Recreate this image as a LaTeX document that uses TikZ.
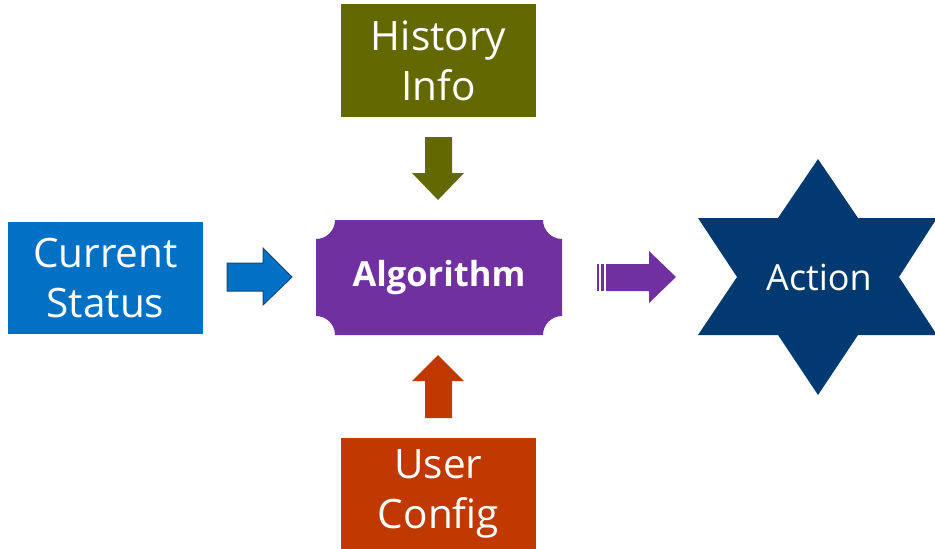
\documentclass[tikz,border=0pt]{standalone}
\usepackage{fontspec}
\setmainfont{Open Sans}
\definecolor{histolive}{RGB}{99,104,0}
\definecolor{curblue}{RGB}{0,113,197}
\definecolor{curedge}{RGB}{24,72,118}
\definecolor{algpurple}{RGB}{112,48,160}
\definecolor{userorange}{RGB}{192,57,0}
\definecolor{actnavy}{RGB}{0,58,112}
\begin{document}
\begin{tikzpicture}[x=1pt,y=-1pt,
  box/.style={minimum width=195pt,inner sep=0pt,text=white,align=center,
    font=\fontsize{40.5}{50}\selectfont},
  label/.style={text=white,inner sep=0pt}]
\useasboundingbox (0,0) rectangle (935,549);

% input boxes
\node[box,fill=histolive,minimum height=113pt] (hist) at (438.5,60.5) {History\\Info};
\node[box,fill=curblue,minimum height=112pt] (cur) at (105.5,278) {Current\\Status};
\node[box,fill=userorange,minimum height=111pt] (user) at (438.5,493.5) {User\\Config};

% algorithm plate with concave corners
\fill[algpurple] (335,220) -- (543,220) arc[start angle=180,end angle=90,radius=19]
  -- (562,316) arc[start angle=270,end angle=180,radius=19]
  -- (335,335) arc[start angle=0,end angle=-90,radius=19]
  -- (316,239) arc[start angle=90,end angle=0,radius=19] -- cycle;
\node[label,font=\bfseries\fontsize{34.5}{40}\selectfont] (alg) at (439,277.5) {Algorithm};

% six-pointed star
\fill[actnavy] (818,159) -- (858,218) -- (937,218) -- (899,277) -- (937,335)
  -- (858,335) -- (818,395) -- (778,335) -- (698,335) -- (737,277)
  -- (698,218) -- (778,218) -- cycle;
\node[label,font=\fontsize{36}{42}\selectfont] (act) at (819,277) {Action};

% block arrows into and out of the algorithm
\filldraw[fill=curblue,draw=curedge,line width=1pt]
  (227,263) -- (263,263) -- (263,248) -- (292,277) -- (263,305)
  -- (263,291) -- (227,291) -- cycle;
\fill[histolive] (425,137) -- (452,137) -- (452,173) -- (464,173) -- (438,200)
  -- (412,173) -- (425,173) -- cycle;
\fill[userorange] (425,418) -- (452,418) -- (452,381) -- (464,381) -- (438,355)
  -- (412,381) -- (425,381) -- cycle;
\fill[algpurple] (606,264) -- (649,264) -- (649,251) -- (676,277) -- (649,303)
  -- (649,291) -- (606,291) -- cycle;
\fill[algpurple] (597,264) rectangle (599,291);
\fill[algpurple] (601,264) rectangle (604,291);
\end{tikzpicture}
\end{document}
